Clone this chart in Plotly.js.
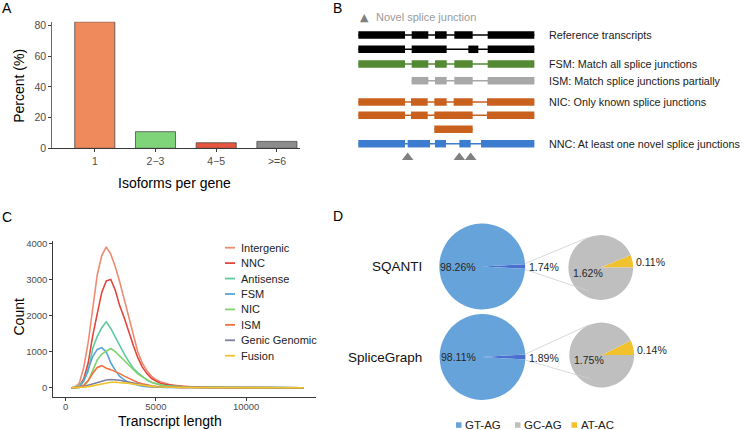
<!DOCTYPE html>
<html><head><meta charset="utf-8">
<script src="https://cdn.plot.ly/plotly-3.0.1.min.js"></script>
<style>html,body{margin:0;padding:0;background:#fff;} #chart{width:743px;height:430px;}</style>
</head><body><div id="chart"></div>
<script>
// ---------- Panel A: isoforms per gene ----------
const isoCategories = ['1', '2\u22123', '4\u22125', '>=6'];
const isoPercent = [82.3, 10.8, 3.6, 4.5];
const isoColors = ['#EE8A5B', '#7FD47A', '#E8553F', '#8C8C8C'];

// ---------- Panel B: transcript diagram ----------
const trackNames = ['Ref1', 'Ref2', 'FSM', 'ISM', 'NIC1', 'NIC2', 'NIC3', 'NNC'];
const trackPos = [35, 49.3, 64, 80.7, 102, 115.3, 129.3, 143.7];
const trackColors = ['#000000', '#000000', '#538A33', '#A8A8A8', '#C9601E', '#C9601E', '#C9601E', '#3D7DCF'];
const exonStarts = [
  [25, 185, 255, 313, 413],
  [25, 185, 355, 413],
  [25, 185, 255, 313, 413],
  [185, 255, 313, 413],
  [25, 183, 253, 311, 411],
  [25, 183, 253, 411],
  [253],
  [25, 173, 255, 328, 393]
];
const exonEnds = [
  [165, 235, 290, 368, 553],
  [165, 290, 385, 553],
  [165, 235, 290, 368, 553],
  [235, 290, 368, 553],
  [165, 233, 290, 368, 553],
  [165, 233, 368, 553],
  [368],
  [165, 240, 288, 362, 553]
];
const trackLabels = ['Reference transcripts', '', 'FSM: Match all splice junctions',
  'ISM: Match splice junctions partially', 'NIC: Only known splice junctions', '', '',
  'NNC: At least one novel splice junctions'];
const novelJunctions = [173, 328, 362];
const novelMarkerRow = 157.5;

// ---------- Panel C: transcript length ----------
const lenX = [330,500,750,1000,1250,1500,1750,2000,2250,2500,2750,3000,3250,3500,3750,4000,4250,4500,4750,5000,5250,5500,5750,6000,6250,6500,6750,7000,7500,8000,9000,10000,11000,12000,13200];
const lenTicks = [0, 5000, 10000];
const countTicks = [0, 1000, 2000, 3000, 4000];
const seriesNames = ['Intergenic', 'NNC', 'Antisense', 'FSM', 'NIC', 'ISM', 'Genic Genomic', 'Fusion'];
const seriesColors = ['#EE8C73', '#E2463C', '#5ECB9F', '#58A4DA', '#7ED36C', '#F4703E', '#7D7F9E', '#F2C32C'];
const intergenic = [0,10,120,560,1260,2250,3130,3660,3900,3700,3350,2920,2420,1910,1410,990,680,470,320,225,165,118,88,68,52,40,30,24,16,10,5,3,2,1,0];
const nnc = [0,5,40,240,690,1440,2050,2640,2960,3000,2700,2260,1930,1520,1170,830,570,390,260,185,125,92,70,54,42,33,26,20,13,8,4,2,1,1,0];
const antisense = [0,5,50,190,460,1090,1420,1660,1825,1640,1400,1150,930,720,540,410,300,210,150,108,80,60,45,35,27,21,16,13,9,6,3,2,1,0,0];
const fsm = [0,3,15,180,550,860,1060,1110,990,690,480,310,215,145,100,62,40,27,18,12,9,7,5,4,3,2,2,1,1,1,0,0,0,0,0];
const nic = [0,2,8,40,180,480,770,930,1010,1085,1000,870,740,610,490,380,300,220,150,110,75,55,40,30,22,17,13,10,6,4,2,1,0,0,0];
const ism = [0,2,15,70,200,400,560,610,540,500,450,390,320,260,200,145,110,72,50,35,25,18,13,10,7,5,4,3,2,1,0,0,0,0,0];
const genicGenomic = [0,1,8,30,70,105,150,190,215,228,225,205,180,155,130,100,75,50,30,22,16,12,9,7,5,4,3,2,1,0,0,0,0,0,0];
const fusion = [0,1,5,15,30,55,95,120,140,150,152,146,133,120,100,80,62,46,35,27,20,15,11,8,6,5,4,3,2,1,0,0,0,0,0];
const seriesValues = [intergenic, nnc, antisense, fsm, nic, ism, genicGenomic, fusion];

// ---------- Panel D: splice site pies ----------
const pieSources = ['SQANTI', 'SpliceGraph'];
const gtag = [98.26, 98.11];
const nonCanonical = [1.74, 1.89];
const gcag = [1.62, 1.75];
const atac = [0.11, 0.14];
const junctionTypes = ['GT-AG', 'GC-AG', 'AT-AC'];
const junctionColors = ['#66A3DA', '#BFBFBF', '#F2C12E'];
const minorSliceColor = '#4A6FCF';

// ---------- helpers (pixel -> paper) ----------
const W = 743, H = 430;
const fx = p => p / W;
const fy = p => 1 - p / H;
const FONT = 'Liberation Sans, Arial, sans-serif';
const traces = [];
const annotations = [];
const shapes = [];

// Panel A
traces.push({
  type: 'bar', x: isoCategories, y: isoPercent, xaxis: 'x', yaxis: 'y',
  width: 0.66, marker: {color: isoColors, line: {color: '#4a4a4a', width: 0.8}},
  hoverinfo: 'none', showlegend: false
});

// Panel B: introns (thin) and exons (bars)
trackPos.forEach((yPos, i) => {
  const s = exonStarts[i], e = exonEnds[i];
  traces.push({
    type: 'scatter', mode: 'lines', xaxis: 'x3', yaxis: 'y3',
    x: [Math.min(...s), Math.max(...e)], y: [yPos, yPos],
    line: {color: trackColors[i], width: 1.6}, hoverinfo: 'none', showlegend: false
  });
  traces.push({
    type: 'bar', orientation: 'h', xaxis: 'x3', yaxis: 'y3',
    y: s.map(() => yPos), base: s, x: s.map((v, k) => e[k] - v),
    width: s.map(() => 7.5), marker: {color: trackColors[i], line: {width: 0}},
    hoverinfo: 'none', showlegend: false, name: trackNames[i]
  });
  if (trackLabels[i]) {
    annotations.push({xref: 'x3', yref: 'y3', x: 592, y: yPos, text: trackLabels[i],
      showarrow: false, xanchor: 'left', yanchor: 'middle', font: {size: 10.8, color: '#1a1a1a'}});
  }
});
traces.push({
  type: 'scatter', mode: 'markers', xaxis: 'x3', yaxis: 'y3',
  x: novelJunctions, y: novelJunctions.map(() => novelMarkerRow),
  marker: {symbol: 'triangle-up', size: 10, color: '#808080'}, hoverinfo: 'none', showlegend: false
});
annotations.push({xref: 'paper', yref: 'paper', x: fx(364), y: fy(17.5), text: '\u25B2', showarrow: false,
  xanchor: 'center', yanchor: 'middle', font: {size: 11, color: '#808080', family: 'DejaVu Sans'}});
annotations.push({xref: 'paper', yref: 'paper', x: fx(374.5), y: fy(17.5), text: 'Novel splice junction', showarrow: false,
  xanchor: 'left', yanchor: 'middle', font: {size: 11, color: '#9a9a9a'}});

// Panel C
seriesNames.forEach((nm, i) => {
  traces.push({
    type: 'scatter', mode: 'lines', xaxis: 'x2', yaxis: 'y2', name: nm,
    x: lenX, y: seriesValues[i], line: {color: seriesColors[i], width: 1.6},
    hoverinfo: 'none', showlegend: false
  });
  const ly = 247.7 + i * 15.43;
  shapes.push({type: 'line', xref: 'paper', yref: 'paper', x0: fx(225), x1: fx(235), y0: fy(ly), y1: fy(ly),
    line: {color: seriesColors[i], width: 1.8}});
  annotations.push({xref: 'paper', yref: 'paper', x: fx(238.5), y: fy(ly), text: nm, showarrow: false,
    xanchor: 'left', yanchor: 'middle', font: {size: 11, color: '#222'}});
});

// Panel D
const bigCenters = [[482.2, 266.5], [482.5, 357]];
const smallCenters = [[600.8, 267.5], [601.7, 355]];
const bigR = 42.9, smallR = 32.4;
pieSources.forEach((src, i) => {
  const [bx, by] = bigCenters[i];
  const [sx, sy] = smallCenters[i];
  const bigTotal = nonCanonical[i] + gtag[i];
  traces.push({
    type: 'pie', values: [nonCanonical[i], gtag[i]], labels: ['minor', 'GT-AG'],
    marker: {colors: [minorSliceColor, junctionColors[0]]}, sort: false, direction: 'clockwise',
    rotation: 90 - 180 * nonCanonical[i] / bigTotal, textinfo: 'none', hoverinfo: 'none', showlegend: false,
    domain: {x: [fx(bx - bigR), fx(bx + bigR)], y: [fy(by + bigR), fy(by - bigR)]}
  });
  const smallTotal = atac[i] + gcag[i];
  traces.push({
    type: 'pie', values: [atac[i], gcag[i]], labels: ['AT-AC', 'GC-AG'],
    marker: {colors: [junctionColors[2], junctionColors[1]]}, sort: false, direction: 'clockwise',
    rotation: 90 - 360 * atac[i] / smallTotal, textinfo: 'none', hoverinfo: 'none', showlegend: false,
    domain: {x: [fx(sx - smallR), fx(sx + smallR)], y: [fy(sy + smallR), fy(sy - smallR)]}
  });
  // connectors
  shapes.push({type: 'line', xref: 'paper', yref: 'paper', x0: fx(bx + bigR), y0: fy(by - 3), x1: fx(sx - 13), y1: fy(sy - 30),
    line: {color: '#CFCFCF', width: 0.8}});
  shapes.push({type: 'line', xref: 'paper', yref: 'paper', x0: fx(bx + bigR), y0: fy(by + 3), x1: fx(sx - 12), y1: fy(sy + 23.5),
    line: {color: '#CFCFCF', width: 0.8}});
  const pf = v => v.toFixed(2) + '%';
  const lab = (x, y, t, anchor) => annotations.push({xref: 'paper', yref: 'paper', x: fx(x), y: fy(y), text: t,
    showarrow: false, xanchor: anchor, yanchor: 'middle', font: {size: 10.5, color: '#262626'}});
  lab(bx - 24.5, by, pf(gtag[i]), 'center');
  lab(bx + 44.5, by + 0.5, pf(nonCanonical[i]), 'left');
  lab(sx - 29.5, sy + 5, pf(gcag[i]), 'left');
  lab(sx + 33, sy - 5.5, pf(atac[i]), 'left');
  annotations.push({xref: 'paper', yref: 'paper', x: fx(424), y: fy(by), text: src, showarrow: false,
    xanchor: 'right', yanchor: 'middle', font: {size: 13.5, color: '#111'}});
});
const legX = [456, 515, 571.5];
junctionTypes.forEach((t, i) => {
  shapes.push({type: 'rect', xref: 'paper', yref: 'paper', x0: fx(legX[i]), x1: fx(legX[i] + 5.5),
    y0: fy(427.8), y1: fy(422.3), fillcolor: junctionColors[i], line: {width: 0}});
  annotations.push({xref: 'paper', yref: 'paper', x: fx(legX[i] + 7), y: fy(425), text: t, showarrow: false,
    xanchor: 'left', yanchor: 'middle', font: {size: 11.5, color: '#222'}});
});

// Panel letters and axis titles
[['A', 6.7, 7.5], ['B', 337.5, 8], ['C', 6.7, 216.7], ['D', 338, 216.5]].forEach(([t, x, y]) => {
  annotations.push({xref: 'paper', yref: 'paper', x: fx(x), y: fy(y), text: t, showarrow: false,
    xanchor: 'center', yanchor: 'middle', font: {size: 14, color: '#000'}});
});
const axTitle = (t, x, y, ang) => annotations.push({xref: 'paper', yref: 'paper', x: fx(x), y: fy(y), text: t,
  showarrow: false, xanchor: 'center', yanchor: 'middle', textangle: ang, font: {size: 14, color: '#000'}});
axTitle('Percent (%)', 19, 85.8, -90);
axTitle('Isoforms per gene', 174.5, 182.5, 0);
axTitle('Count', 18.5, 317, -90);
axTitle('Transcript length', 170, 421, 0);

const axisBase = {showgrid: false, zeroline: false, showline: true, linecolor: '#3a3a3a', linewidth: 1,
  ticks: 'outside', ticklen: 3, tickcolor: '#3a3a3a', tickwidth: 1, fixedrange: true};

const layout = {
  width: W, height: H, margin: {l: 0, r: 0, t: 0, b: 0}, paper_bgcolor: '#fff', plot_bgcolor: 'rgba(0,0,0,0)',
  font: {family: FONT}, barmode: 'overlay', showlegend: false,
  xaxis: Object.assign({}, axisBase, {domain: [fx(52.3), fx(300)], anchor: 'y', type: 'category',
    range: [-0.7, 3.38], tickfont: {size: 10.5, color: '#4d4d4d'}}),
  yaxis: Object.assign({}, axisBase, {domain: [fy(148.3), fy(21.8)], anchor: 'x', range: [0, 82.3],
    tickvals: [0, 20, 40, 60, 80], tickfont: {size: 10.5, color: '#4d4d4d'}, linecolor: '#6a6a6a'}),
  xaxis2: Object.assign({}, axisBase, {domain: [fx(53.3), fx(316)], anchor: 'y2', range: [-687, 13875],
    tickvals: lenTicks, ticktext: lenTicks.map(String), ticklabelstandoff: -2,
    tickfont: {size: 9.5, color: '#4d4d4d'}}),
  yaxis2: Object.assign({}, axisBase, {domain: [fy(396.7), fy(240.7)], anchor: 'x2', range: [-250, 4072],
    tickvals: countTicks, ticktext: countTicks.map(String), tickfont: {size: 9.5, color: '#4d4d4d'}}),
  xaxis3: {domain: [fx(340), 1], anchor: 'y3', range: [-30, 1179], visible: false, fixedrange: true},
  yaxis3: {domain: [fy(170), 1], anchor: 'x3', range: [170, 0], visible: false, fixedrange: true},
  annotations: annotations, shapes: shapes
};

Plotly.newPlot('chart', traces, layout, {displayModeBar: false, staticPlot: true});
</script>
</body></html>
